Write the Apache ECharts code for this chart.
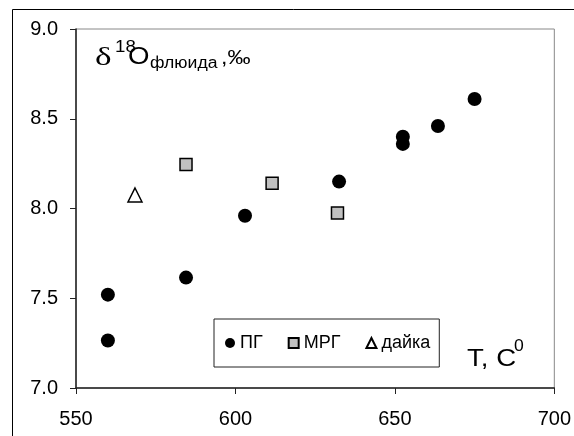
<!DOCTYPE html>
<html><head><meta charset="utf-8">
<script src="https://cdn.jsdelivr.net/npm/echarts@6/dist/echarts.min.js"></script>
<style>html,body{margin:0;padding:0;background:#fff}#c{width:574px;height:436px}</style>
</head><body><div id="c"></div>
<script>
// Data
const pgT = [560, 560, 584.5, 603, 632.5, 652.5, 652.5, 663.5, 675];
const pgO = [7.52, 7.265, 7.615, 7.96, 8.15, 8.40, 8.36, 8.46, 8.61];
const mrgT = [584.5, 611.5, 632];
const mrgO = [8.245, 8.14, 7.975];
const dykeT = [568.5];
const dykeO = [8.075];
const seriesNames = ['ПГ', 'МРГ', 'дайка'];
const xTicks = {min: 550, max: 700, step: 50};
const yTicks = {min: 7.0, max: 9.0, step: 0.5};

const zip = (a, b) => a.map((v, i) => [v, b[i]]);
const F = 'Liberation Sans, Arial, sans-serif';
const chart = echarts.init(document.getElementById('c'), null, {renderer: 'canvas'});
const txt = (x, y, text, font, sx) => ({type: 'text', x: x, y: y, scaleX: sx || 1,
  style: {text: text, font: font, fill: '#000', textVerticalAlign: 'middle', textAlign: 'left'}});
chart.setOption({
  animation: false,
  backgroundColor: '#fff',
  grid: {left: 76, right: 14, top: 29, bottom: 48, show: true, borderColor: '#888', borderWidth: 1},
  xAxis: {
    type: 'value', min: xTicks.min, max: xTicks.max, interval: xTicks.step,
    axisLine: {onZero: false, lineStyle: {color: '#222', width: 1.5}},
    axisTick: {inside: false, length: 6, lineStyle: {color: '#222'}},
    splitLine: {show: false},
    axisLabel: {margin: 21, color: '#000', fontFamily: F, fontSize: 20, formatter: v => String(v)}
  },
  yAxis: {
    type: 'value', min: yTicks.min, max: yTicks.max, interval: yTicks.step,
    axisLine: {onZero: false, lineStyle: {color: '#222', width: 1.5}},
    axisTick: {inside: false, length: 6, lineStyle: {color: '#222'}},
    splitLine: {show: false},
    axisLabel: {margin: 18, color: '#000', fontFamily: F, fontSize: 20, formatter: v => v.toFixed(1)}
  },
  legend: {
    left: 214, top: 319, orient: 'horizontal',
    padding: [15, 9, 15, 11], itemGap: 25, itemWidth: 10, itemHeight: 10,
    borderColor: '#222', borderWidth: 1, backgroundColor: '#fff',
    textStyle: {fontFamily: F, fontSize: 18, color: '#000'},
    data: [
      {name: seriesNames[0], icon: 'circle'},
      {name: seriesNames[1], icon: 'rect'},
      {name: seriesNames[2], icon: 'triangle'}
    ]
  },
  series: [
    {name: seriesNames[0], type: 'scatter', symbol: 'circle', symbolSize: 14,
     itemStyle: {color: '#000', opacity: 1}, data: zip(pgT, pgO)},
    {name: seriesNames[1], type: 'scatter', symbol: 'rect', symbolSize: 12,
     itemStyle: {color: '#c0c0c0', borderColor: '#000', borderWidth: 1.5, opacity: 1}, data: zip(mrgT, mrgO)},
    {name: seriesNames[2], type: 'scatter', symbol: 'triangle', symbolSize: 14,
     itemStyle: {color: '#fff', borderColor: '#000', borderWidth: 1.5, opacity: 1}, data: zip(dykeT, dykeO)}
  ],
  graphic: [
    {type: 'rect', shape: {x: 12.5, y: 9.5, width: 700, height: 600}, style: {fill: null, stroke: '#000', lineWidth: 1}, silent: true, z: 100},
    txt(95, 58, 'δ', '26px Liberation Serif', 1.35),
    txt(115, 47, '18', '17px Liberation Sans', 1.1),
    txt(128, 57, 'O', '24px Liberation Sans', 1.15),
    txt(150, 64, 'флюида', '16px Liberation Sans', 1.1),
    txt(221, 58, ',‰', '21px Liberation Sans', 1.1),
    txt(467, 359, 'T, C', '24px Liberation Sans', 1.15),
    txt(514, 347, '0', '16px Liberation Sans', 1.1)
  ]
});
</script></body></html>
